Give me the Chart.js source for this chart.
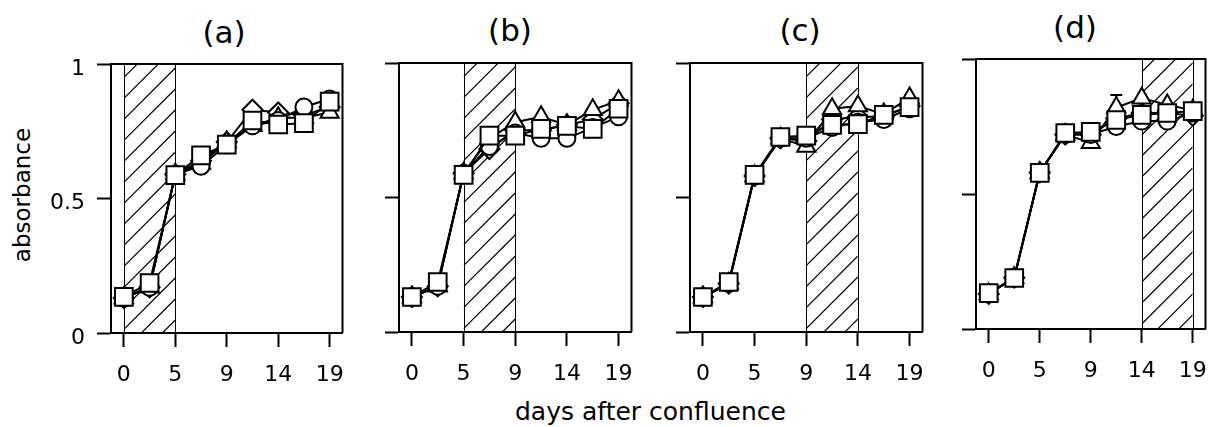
<!DOCTYPE html>
<html>
<head>
<meta charset="utf-8">
<script src="https://cdn.jsdelivr.net/npm/chart.js@4"></script>
<style>
  body { margin: 0; width: 1214px; height: 427px; position: relative; overflow: hidden; background: #fff; font-family: "DejaVu Sans", sans-serif; }
  canvas { position: absolute; }
  .lbl { position: absolute; color: #000; white-space: nowrap; transform: translate(-50%, -50%); }
</style>
</head>
<body>
<div class="lbl" style="left:224px;top:32px;font-size:31px">(a)</div>
<div class="lbl" style="left:510px;top:30px;font-size:31px">(b)</div>
<div class="lbl" style="left:800px;top:30px;font-size:31px">(c)</div>
<div class="lbl" style="left:1075px;top:27px;font-size:31px">(d)</div>
<div class="lbl" style="left:22px;top:195px;font-size:23px;transform:translate(-50%,-50%) rotate(-90deg)">absorbance</div>
<div class="lbl" style="left:515px;top:411px;font-size:25px;transform:translate(0,-50%)">days after confluence</div>

<script>
// sampling points are evenly spaced on the x axis; only every 2nd one is labelled
const sampleIdx = [0, 1, 2, 3, 4, 5, 6, 7, 8];
const tickIdx = [0, 2, 4, 6, 8];
const tickLabels = ['0', '5', '9', '14', '19'];
const yTicks = [0, 0.5, 1];
const yTickLabels = ['0', '0.5', '1'];

// hatched period for each panel (in sample index)
const shadeFrom = [0, 2, 4, 6];
const shadeTo = [2, 4, 6, 8];

// panel (a)
const squareA = [0.134, 0.186, 0.587, 0.66, 0.70, 0.79, 0.775, 0.78, 0.86];
const circleA = [0.13, 0.17, 0.59, 0.62, 0.70, 0.77, 0.79, 0.84, 0.87];
const triangleA = [0.13, 0.17, 0.59, 0.63, 0.71, 0.77, 0.80, 0.80, 0.82];
const diamondA = [0.13, 0.17, 0.59, 0.64, 0.71, 0.83, 0.82, 0.81, 0.84];

// panel (b)
const squareB = [0.13, 0.186, 0.584, 0.73, 0.73, 0.755, 0.766, 0.755, 0.83];
const circleB = [0.13, 0.17, 0.59, 0.69, 0.74, 0.72, 0.72, 0.76, 0.80];
const triangleB = [0.13, 0.17, 0.59, 0.72, 0.78, 0.80, 0.77, 0.826, 0.86];
const diamondB = [0.13, 0.17, 0.59, 0.68, 0.75, 0.75, 0.77, 0.79, 0.85];

// panel (c)
const squareC = [0.13, 0.186, 0.584, 0.725, 0.73, 0.77, 0.773, 0.807, 0.836];
const circleC = [0.13, 0.18, 0.58, 0.72, 0.72, 0.76, 0.78, 0.79, 0.83];
const triangleC = [0.13, 0.18, 0.58, 0.72, 0.69, 0.83, 0.84, 0.81, 0.87];
const diamondC = [0.13, 0.18, 0.58, 0.72, 0.71, 0.79, 0.80, 0.80, 0.84];

// panel (d)
const squareD = [0.133, 0.189, 0.578, 0.726, 0.73, 0.774, 0.793, 0.80, 0.807];
const circleD = [0.13, 0.19, 0.58, 0.72, 0.72, 0.75, 0.77, 0.77, 0.80];
const triangleD = [0.13, 0.19, 0.58, 0.72, 0.69, 0.82, 0.855, 0.83, 0.81];
const diamondD = [0.13, 0.19, 0.58, 0.72, 0.72, 0.78, 0.80, 0.80, 0.79];
const triangleErrD = [null, null, null, null, null, 0.867, null, null, null];

const panels = [
    [squareA, circleA, triangleA, diamondA],
    [squareB, circleB, triangleB, diamondB],
    [squareC, circleC, triangleC, diamondC],
    [squareD, circleD, triangleD, diamondD]
];

// plot box of each panel on the page
const boxes = [
    { l: 111, r: 349, t: 64, b: 333 },
    { l: 399, r: 638, t: 63, b: 332 },
    { l: 690, r: 929, t: 63, b: 332 },
    { l: 976, r: 1212, t: 59, b: 329 }
];

const shapes = ['rect', 'circle', 'triangle', 'rectRot'];
const radii = [12.5, 8.5, 10.5, 10];

// hatched band + box frame
const hatchPlugin = {
    id: 'hatch',
    beforeDatasetsDraw(chart, args, opts) {
        const ctx = chart.ctx;
        const area = chart.chartArea;
        const x = chart.scales.x;
        const x0 = x.getPixelForValue(shadeFrom[opts.panel]);
        const x1 = x.getPixelForValue(shadeTo[opts.panel]);
        ctx.save();
        ctx.beginPath();
        ctx.rect(x0, area.top, x1 - x0, area.bottom - area.top);
        ctx.clip();
        ctx.strokeStyle = '#000';
        ctx.lineWidth = 1.2;
        ctx.beginPath();
        for (let y = area.top - 80; y < area.bottom + 80; y += 21) {
            ctx.moveTo(x0, y + (x1 - x0));
            ctx.lineTo(x1, y);
        }
        ctx.stroke();
        ctx.restore();

        ctx.save();
        ctx.strokeStyle = '#000';
        ctx.lineWidth = 1;
        ctx.beginPath();
        ctx.moveTo(Math.round(x0) + 0.5, area.top);
        ctx.lineTo(Math.round(x0) + 0.5, area.bottom);
        ctx.moveTo(Math.round(x1) + 0.5, area.top);
        ctx.lineTo(Math.round(x1) + 0.5, area.bottom);
        ctx.stroke();
        // top and right side of the frame
        ctx.lineWidth = 2;
        ctx.beginPath();
        ctx.moveTo(area.left, area.top);
        ctx.lineTo(area.right, area.top);
        ctx.lineTo(area.right, area.bottom);
        ctx.stroke();
        ctx.restore();
    },
    afterDatasetsDraw(chart, args, opts) {
        // single error bar (panel d)
        if (opts.panel !== 3) return;
        const ctx = chart.ctx;
        const xs = chart.scales.x, ys = chart.scales.y;
        ctx.save();
        ctx.strokeStyle = '#000';
        ctx.lineWidth = 2;
        triangleErrD.forEach((v, i) => {
            if (v === null) return;
            const px = xs.getPixelForValue(sampleIdx[i]);
            const top = ys.getPixelForValue(v);
            const base = ys.getPixelForValue(triangleD[i]) - 9;
            ctx.beginPath();
            ctx.moveTo(px, base);
            ctx.lineTo(px, top);
            ctx.moveTo(px - 6, top);
            ctx.lineTo(px + 6, top);
            ctx.stroke();
        });
        ctx.restore();
    }
};

function makePanel(p) {
    const box = boxes[p];
    const yw = p === 0 ? 111 : 20;
    const padTop = 20, padRight = 8, xh = 70;
    const cv = document.createElement('canvas');
    cv.width = box.r - box.l + yw + padRight;
    cv.height = box.b - box.t + padTop + xh;
    cv.style.left = (box.l - yw) + 'px';
    cv.style.top = (box.t - padTop) + 'px';
    document.body.appendChild(cv);

    const datasets = panels[p].map((vals, k) => ({
        data: vals.map((v, i) => ({ x: sampleIdx[i], y: v })),
        borderColor: '#000',
        borderWidth: 2,
        pointStyle: shapes[k],
        pointRadius: radii[k],
        pointBackgroundColor: '#fff',
        pointBorderColor: '#000',
        pointBorderWidth: 2,
        tension: 0
    }));

    return new Chart(cv, {
        type: 'line',
        data: { datasets: datasets },
        options: {
            responsive: false,
            animation: false,
            layout: { padding: { top: padTop, right: padRight, left: 0, bottom: 0 } },
            plugins: { legend: { display: false }, tooltip: { enabled: false }, hatch: { panel: p } },
            scales: {
                x: {
                    type: 'linear',
                    min: -0.5,
                    max: 8.5,
                    afterBuildTicks: s => { s.ticks = tickIdx.map(v => ({ value: v })); },
                    afterFit: s => { s.height = xh; s.paddingLeft = 0; s.paddingRight = 0; },
                    border: { display: true, color: '#000', width: 2 },
                    grid: { drawOnChartArea: false, drawTicks: true, tickLength: 14, tickWidth: 2, tickColor: '#000' },
                    ticks: {
                        autoSkip: false,
                        maxRotation: 0,
                        padding: 15,
                        color: '#000',
                        font: { family: 'DejaVu Sans', size: 22 },
                        callback: v => tickLabels[tickIdx.indexOf(v)]
                    }
                },
                y: {
                    min: 0,
                    max: 1,
                    afterBuildTicks: s => { s.ticks = yTicks.map(v => ({ value: v })); },
                    afterFit: s => { s.width = yw; s.paddingTop = 0; s.paddingBottom = 0; },
                    border: { display: true, color: '#000', width: 2 },
                    grid: { drawOnChartArea: false, drawTicks: true, tickLength: 14, tickWidth: 2, tickColor: '#000' },
                    ticks: {
                        display: p === 0,
                        padding: 12,
                        labelOffset: 5,
                        color: '#000',
                        font: { family: 'DejaVu Sans', size: 22 },
                        callback: v => yTickLabels[yTicks.indexOf(v)]
                    }
                }
            }
        },
        plugins: [hatchPlugin]
    });
}

for (let p = 0; p < 4; p++) makePanel(p);
</script>
</body>
</html>
